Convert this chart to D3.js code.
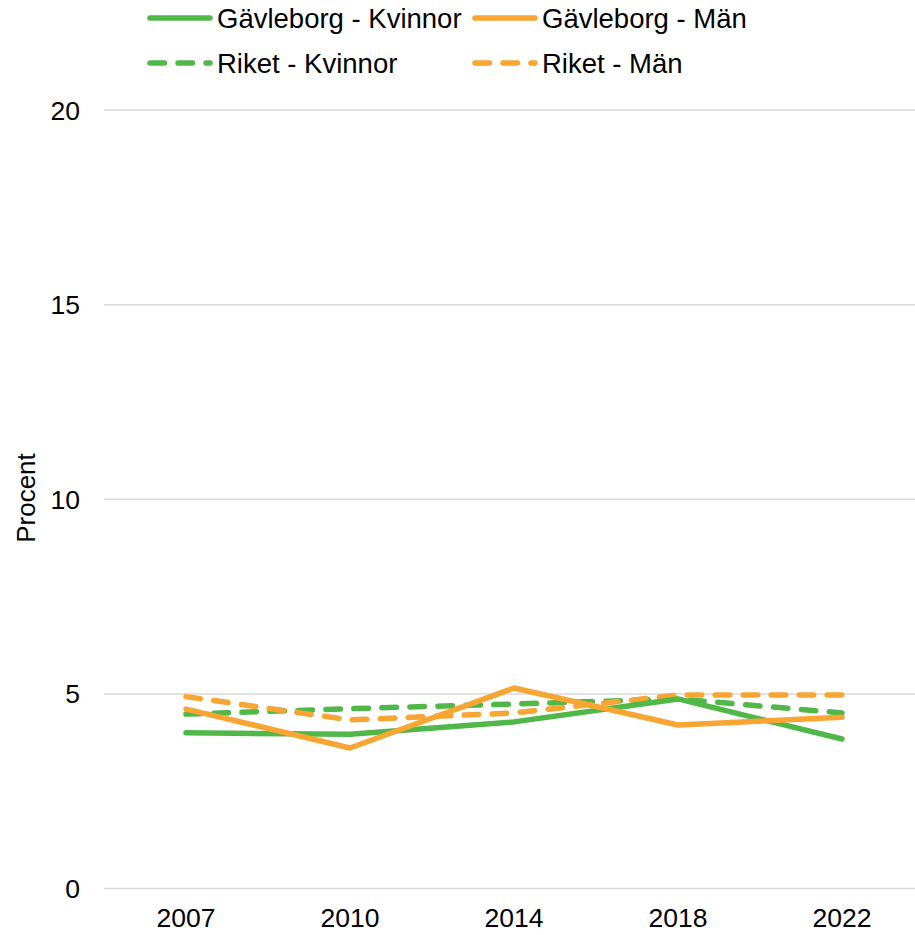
<!DOCTYPE html>
<html lang="sv">
<head>
<meta charset="UTF-8">
<title>Procent</title>
<script src="https://d3js.org/d3.v7.min.js"></script>
<style>
  body { margin: 0; background: #fff; }
  text { font-family: "Liberation Sans", Arial, sans-serif; fill: #000; }
</style>
</head>
<body>
<script>
// data
var years = ["2007", "2010", "2014", "2018", "2022"];
var gavleKvinnor = [4.0, 3.96, 4.28, 4.87, 3.84];
var gavleMan = [4.61, 3.61, 5.15, 4.2, 4.4];
var riketKvinnor = [4.48, 4.62, 4.74, 4.87, 4.51];
var riketMan = [4.93, 4.33, 4.51, 4.97, 4.97];
var yTicks = [0, 5, 10, 15, 20];

var green = "#50b848", orange = "#f9a533";
var series = [
  { name: "Riket - Kvinnor", values: riketKvinnor, color: green, dash: true },
  { name: "Riket - Män", values: riketMan, color: orange, dash: true },
  { name: "Gävleborg - Kvinnor", values: gavleKvinnor, color: green, dash: false },
  { name: "Gävleborg - Män", values: gavleMan, color: orange, dash: false }
];

var w = 915, h = 935;
var svg = d3.select("body").append("svg")
  .attr("width", w).attr("height", h);

var x = d3.scalePoint().domain(years).range([104, 924]).padding(0.5);
var y = d3.scaleLinear().domain([0, 20]).range([888.5, 110]);

// gridlines
svg.selectAll("line.grid")
  .data(yTicks)
  .enter().append("line")
  .attr("class", "grid")
  .attr("x1", 104).attr("x2", w)
  .attr("y1", function(d) { return y(d); })
  .attr("y2", function(d) { return y(d); })
  .attr("stroke", "#d9d9d9")
  .attr("stroke-width", 1.5);

// y tick labels
svg.selectAll("text.ytick")
  .data(yTicks)
  .enter().append("text")
  .attr("class", "ytick")
  .attr("x", 80)
  .attr("y", function(d) { return y(d) + 9.5; })
  .attr("text-anchor", "end")
  .style("font-size", "26.5px")
  .text(function(d) { return d; });

// x tick labels
svg.selectAll("text.xtick")
  .data(years)
  .enter().append("text")
  .attr("class", "xtick")
  .attr("x", function(d) { return x(d); })
  .attr("y", 927)
  .attr("text-anchor", "middle")
  .style("font-size", "26.5px")
  .text(function(d) { return d; });

// axis title
svg.append("text")
  .attr("transform", "translate(35,498) rotate(-90)")
  .attr("text-anchor", "middle")
  .style("font-size", "26px")
  .text("Procent");

var line = d3.line()
  .x(function(d, i) { return x(years[i]); })
  .y(function(d) { return y(d); });

svg.selectAll("path.series")
  .data(series)
  .enter().append("path")
  .attr("class", "series")
  .attr("d", function(d) { return line(d.values); })
  .attr("fill", "none")
  .attr("stroke", function(d) { return d.color; })
  .attr("stroke-width", 5.5)
  .attr("stroke-linecap", "round")
  .attr("stroke-linejoin", "round")
  .attr("stroke-dasharray", function(d) { return d.dash ? "14.5,13.5" : null; });

// legend
var legendItems = [
  { s: series[2], x: 150, y: 18 },
  { s: series[3], x: 475, y: 18 },
  { s: series[0], x: 150, y: 63 },
  { s: series[1], x: 475, y: 63 }
];

var legendG = svg.selectAll(".legend")
  .data(legendItems)
  .enter().append("g")
  .attr("class", "legend")
  .attr("transform", function(d) { return "translate(" + d.x + "," + d.y + ")"; });

legendG.append("line")
  .attr("x1", 0).attr("x2", 60)
  .attr("stroke", function(d) { return d.s.color; })
  .attr("stroke-width", 5.5)
  .attr("stroke-linecap", "round")
  .attr("stroke-dasharray", function(d) { return d.s.dash ? "14.5,13.5" : null; });

legendG.append("text")
  .attr("x", 67)
  .attr("y", 10)
  .style("font-size", "27.5px")
  .text(function(d) { return d.s.name; });
</script>
</body>
</html>
